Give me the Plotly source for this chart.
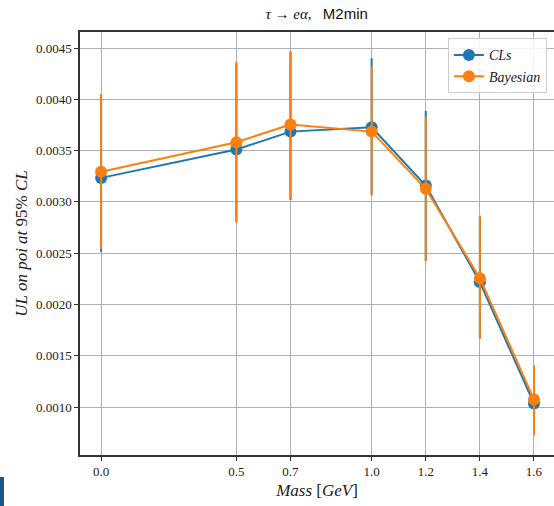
import plotly.graph_objects as go

mass = [0.0, 0.5, 0.7, 1.0, 1.2, 1.4, 1.6]
tick_labels = ["0.0", "0.5", "0.7", "1.0", "1.2", "1.4", "1.6"]

cls_ul = [0.003234, 0.003510, 0.003685, 0.003728, 0.003160, 0.002218, 0.001034]
cls_hi = [0.004040, 0.004350, 0.004460, 0.004400, 0.003887, 0.002860, 0.001400]
cls_lo = [0.002510, 0.002810, 0.003020, 0.003070, 0.002430, 0.001670, 0.000730]

bay_ul = [0.003293, 0.003582, 0.003755, 0.003685, 0.003128, 0.002257, 0.001073]
bay_hi = [0.004052, 0.004366, 0.004470, 0.004320, 0.003830, 0.002867, 0.001407]
bay_lo = [0.002540, 0.002800, 0.003030, 0.003060, 0.002420, 0.001664, 0.000725]

series = [
    ("<i>CLs</i>", cls_ul, cls_hi, cls_lo, "#1f77b4"),
    ("<i>Bayesian</i>", bay_ul, bay_hi, bay_lo, "#ff7f0e"),
]

fig = go.Figure()
for name, ul, hi, lo, col in series:
    fig.add_trace(go.Scatter(
        x=mass, y=ul, name=name, mode="lines+markers",
        line=dict(color=col, width=2),
        marker=dict(color=col, size=12),
        error_y=dict(type="data", symmetric=False,
                     array=[h - u for h, u in zip(hi, ul)],
                     arrayminus=[u - l for u, l in zip(ul, lo)],
                     color=col, thickness=2, width=0),
    ))

serif = "Liberation Serif, DejaVu Serif, serif"
fig.update_layout(
    width=554, height=506,
    margin=dict(l=80, r=0, t=32, b=51),
    paper_bgcolor="white", plot_bgcolor="white",
    font=dict(family=serif, size=13, color="#222"),
    title=dict(
        text="<i>τ</i> → <i>eα</i>,   <span style='font-family:Liberation Sans, Arial, sans-serif'>M2min</span>",
        x=0.5715, xanchor="center", y=0.972, yanchor="middle",
        font=dict(size=15, family=serif, color="#111"),
    ),
    legend=dict(
        x=0.985, xanchor="right", y=0.985, yanchor="top",
        bgcolor="rgba(255,255,255,0.85)", bordercolor="#cccccc", borderwidth=1,
        font=dict(family=serif, size=14, color="#222"),
    ),
    showlegend=True,
    shapes=[dict(type="rect", xref="paper", yref="paper",
                 x0=-0.1688, x1=-0.1603, y0=-0.1206, y1=-0.052,
                 fillcolor="#1a5a8a", line=dict(width=0))],
)
fig.update_xaxes(
    range=[-0.078, 1.674], tickvals=mass, ticktext=tick_labels,
    showgrid=True, gridcolor="#b0b0b0", gridwidth=1,
    showline=True, linecolor="#333", linewidth=1.5, mirror=True,
    ticks="outside", ticklen=4, tickcolor="#333",
    zeroline=False,
    title=dict(text="<i>Mass</i> [<i>GeV</i>]", font=dict(size=17, family=serif), standoff=6),
    tickfont=dict(size=13, family=serif),
)
fig.update_yaxes(
    range=[0.000533, 0.004656],
    tickvals=[0.0010, 0.0015, 0.0020, 0.0025, 0.0030, 0.0035, 0.0040, 0.0045],
    ticktext=["0.0010", "0.0015", "0.0020", "0.0025", "0.0030", "0.0035", "0.0040", "0.0045"],
    showgrid=True, gridcolor="#b0b0b0", gridwidth=1,
    showline=True, linecolor="#333", linewidth=1.5, mirror=False,
    ticks="outside", ticklen=4, tickcolor="#333",
    zeroline=False,
    title=dict(text="<i>UL on poi at</i> 95% <i>CL</i>", font=dict(size=17, family=serif), standoff=4),
    tickfont=dict(size=13, family=serif),
)

fig.write_html("out.html")
